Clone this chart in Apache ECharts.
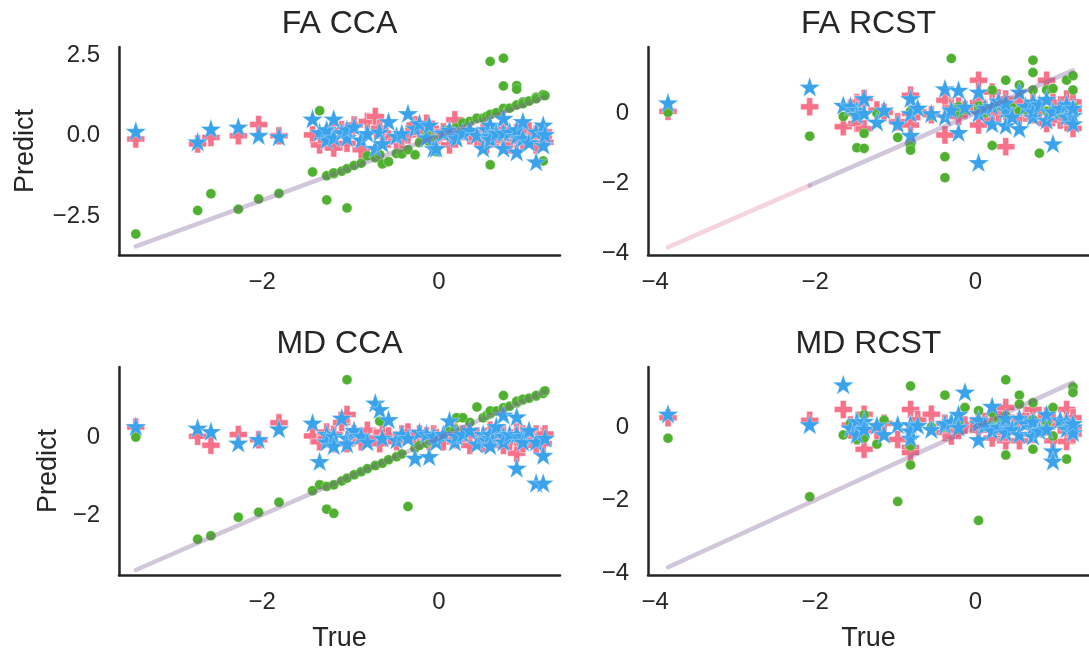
<!DOCTYPE html>
<html>
<head>
<meta charset="utf-8">
<script src="https://cdn.jsdelivr.net/npm/echarts@6/dist/echarts.min.js"></script>
<style>
  html, body { margin: 0; padding: 0; background: #ffffff; }
  #chart { width: 1089px; height: 655px; }
</style>
</head>
<body>
<div id="chart"></div>
<script>
// ---- observed scores (true) and predictions of the three models ----
const trueCCA = [-3.43,-2.73,-2.58,-2.27,-2.04,-1.81,-1.43,-1.35,-1.27,-1.27,-1.19,-1.19,-1.10,-1.04,-1.04,-0.96,-0.88,-0.81,-0.72,-0.67,-0.64,-0.57,-0.48,-0.42,-0.35,-0.27,-0.22,-0.14,-0.11,-0.06,-0.03,0.05,0.12,0.18,0.20,0.27,0.35,0.43,0.50,0.54,0.58,0.58,0.58,0.65,0.73,0.73,0.73,0.80,0.88,0.88,0.88,0.95,0.95,1.02,1.10,1.10,1.18,1.18,1.20];

const faCCAPlus = [-0.10,-0.25,-0.05,0.00,0.35,0.00,0.03,-0.28,0.03,-0.15,-0.38,0.15,0.19,-0.23,0.10,0.34,-0.43,0.45,0.60,0.24,0.00,-0.10,-0.18,-0.12,0.03,0.34,0.10,0.39,-0.05,-0.18,0.05,0.13,-0.28,0.50,0.05,0.13,0.00,-0.07,0.10,-0.28,0.05,-0.10,0.10,-0.07,0.03,-0.15,0.20,-0.28,0.10,-0.10,0.00,-0.18,0.05,0.15,-0.28,0.05,0.13,-0.07,-0.20];
const faCCADot = [-3.05,-2.32,-1.80,-2.28,-1.96,-1.79,-1.12,0.78,-1.24,-1.99,-1.18,-1.15,-1.10,-2.24,-1.02,-0.92,-0.85,-0.62,-0.68,-0.59,-0.87,-0.80,-0.55,-0.56,-0.43,-0.59,-0.21,0.03,-0.18,-0.10,-0.49,0.05,0.20,0.22,0.25,0.40,0.45,0.55,0.55,0.60,0.66,2.31,-0.90,0.72,0.85,2.41,1.55,0.86,0.96,1.56,1.45,1.05,1.00,1.08,1.20,1.15,1.28,-0.78,1.25];
const faCCAStar = [0.15,-0.18,0.22,0.28,0.02,-0.02,0.53,0.11,-0.12,0.20,0.53,-0.05,0.11,-0.05,0.20,0.29,-0.12,0.08,-0.38,0.13,-0.23,0.45,0.00,0.08,0.70,0.24,0.39,-0.05,0.34,-0.38,-0.38,0.10,0.19,0.00,-0.07,0.10,0.19,0.03,-0.38,0.20,0.34,0.00,-0.10,0.10,0.55,-0.38,0.10,0.13,-0.49,0.00,0.20,0.45,-0.07,-0.20,-0.80,0.13,0.34,-0.28,0.05];

const mdCCAPlus = [0.28,0.04,-0.19,0.09,-0.05,0.39,0.05,-0.10,0.00,0.15,-0.15,0.10,0.40,0.61,-0.15,0.10,-0.10,0.20,0.00,-0.15,0.15,0.05,-0.10,0.10,0.15,-0.05,0.10,0.05,-0.10,0.10,0.00,-0.10,0.05,0.15,-0.05,0.10,-0.20,0.05,-0.15,0.00,0.20,-0.10,0.10,-0.05,0.10,-0.20,0.05,-0.10,0.15,-0.40,0.05,0.10,-0.15,0.05,0.10,-0.20,0.05,-0.15,0.10];
const mdCCADot = [0.02,-2.63,-2.54,-2.06,-1.93,-1.67,-1.37,-1.22,-1.26,-1.85,-1.22,-1.96,-1.12,1.51,-1.05,-0.96,-0.88,-0.80,-0.72,0.43,-0.66,-0.57,-0.49,-0.42,-1.78,-0.27,-0.20,-0.14,-0.08,-0.04,0.00,0.05,0.17,0.22,0.52,0.52,0.40,0.80,0.52,0.58,0.62,0.65,0.70,0.70,1.10,0.75,0.78,0.82,0.90,0.92,0.95,0.98,1.00,1.03,1.08,1.10,1.18,1.15,1.22];
const mdCCAStar = [0.30,0.26,0.17,-0.13,-0.04,0.24,0.39,-0.61,0.10,-0.10,0.05,-0.20,0.52,0.00,-0.15,0.20,0.05,-0.10,0.91,0.74,0.00,0.48,-0.05,0.10,0.00,-0.52,0.15,0.10,-0.48,0.05,-0.10,0.10,0.45,-0.10,0.05,0.10,0.20,-0.15,0.10,-0.05,0.00,0.10,-0.20,0.30,0.60,0.05,-0.10,0.10,-0.78,0.10,0.55,0.05,-0.10,0.20,-1.17,-0.10,-1.17,-0.45,0.00];

const trueRCST = [-3.84,-2.07,-1.65,-1.56,-1.48,-1.48,-1.39,-1.39,-1.23,-1.14,-0.97,-0.81,-0.81,-0.81,-0.72,-0.55,-0.38,-0.38,-0.30,-0.21,-0.21,-0.13,0.04,0.04,0.04,0.12,0.21,0.21,0.29,0.38,0.38,0.38,0.46,0.55,0.55,0.63,0.72,0.72,0.72,0.80,0.89,0.89,0.97,0.97,1.06,1.14,1.14,1.22,1.22,1.22];

const faRCSTPlus = [0.05,0.18,-0.39,0.15,-0.30,0.30,0.42,-0.45,0.09,0.02,-0.25,0.51,-0.01,-0.34,0.04,-0.05,0.37,-0.63,0.15,0.20,-0.10,0.10,0.94,-0.34,0.30,0.10,0.60,-0.20,0.00,-0.96,0.40,0.05,0.20,-0.15,0.30,0.00,0.32,-0.02,-0.05,0.10,0.94,-0.30,0.05,0.30,-0.20,0.40,-0.15,0.32,-0.44,0.10];
const faRCSTDot = [0.02,-0.66,-0.10,0.05,-0.99,0.10,-1.01,-0.58,0.00,0.05,-0.70,-0.91,-1.06,0.05,0.10,-0.08,-1.25,-1.85,1.56,0.00,0.18,0.10,0.18,0.20,0.05,0.00,0.66,-0.93,0.20,0.94,0.10,0.00,0.15,0.80,0.05,0.10,1.51,1.16,0.66,-1.15,0.66,0.05,0.70,0.10,0.00,0.94,0.10,1.07,0.66,0.20];
const faRCSTStar = [0.30,0.75,0.23,0.20,0.09,-0.05,0.42,0.00,-0.25,0.09,-0.30,0.42,-0.01,-0.63,0.15,-0.01,0.70,-0.10,0.10,0.66,-0.55,0.18,0.61,-1.41,0.00,0.15,-0.30,0.20,0.35,0.10,-0.35,0.30,-0.10,0.61,-0.44,0.20,0.32,-0.10,0.05,0.25,-0.20,0.40,-0.87,0.05,0.15,-0.10,0.25,-0.06,0.15,-0.30];

const mdRCSTPlus = [0.25,0.18,0.48,0.05,-0.25,-0.05,0.35,-0.61,-0.10,0.10,-0.34,0.48,-0.56,-0.70,0.20,0.35,0.10,-0.15,-0.25,-0.10,0.05,0.05,0.05,0.20,-0.10,0.15,0.10,-0.30,0.40,0.53,-0.38,-0.15,0.10,-0.38,0.15,0.30,0.48,-0.20,0.10,0.05,0.00,0.30,-0.38,0.20,0.05,0.48,-0.40,0.00,-0.20,0.25];
const mdRCSTDot = [-0.31,-1.91,-0.22,0.10,-0.34,0.05,0.33,-0.30,-0.47,0.18,-2.04,1.12,-0.52,-1.04,0.05,0.00,0.87,0.00,0.10,0.10,-0.05,0.53,0.44,-2.56,0.10,0.00,0.39,0.05,0.20,1.29,-0.77,0.30,0.00,0.87,0.62,0.05,0.66,-0.61,0.20,-0.10,0.10,-0.05,0.53,-0.25,0.10,-0.88,0.00,1.09,0.94,0.05];
const mdRCSTStar = [0.36,0.07,1.16,-0.02,0.16,-0.20,0.16,-0.05,0.05,-0.20,0.07,0.07,-0.30,-0.10,0.05,-0.06,0.05,0.10,0.15,0.35,0.00,0.96,-0.34,0.10,0.20,0.05,0.57,-0.10,0.00,0.07,-0.15,0.25,-0.05,0.25,-0.20,0.10,0.00,-0.25,0.15,-0.10,0.35,-0.05,-0.65,-0.93,0.20,0.16,-0.05,0.00,-0.15,0.10];

// ---- tick labels ----
const xTicksCCA = [-2, 0];
const xTicksRCST = [-4, -2, 0];
const yTicksFACCA = [-2.5, 0, 2.5];
const yTicksFARCST = [-4, -2, 0];
const yTicksMDCCA = [-2, 0];
const yTicksMDRCST = [-4, -2, 0];

const panelTitles = ['FA CCA', 'FA RCST', 'MD CCA', 'MD RCST'];
const xName = 'True';
const yName = 'Predict';

// ---- styling ----
const INK = '#262626';
const FONT = '"Liberation Sans", Arial, Helvetica, sans-serif';
const PINK = '#f77189', GREEN = '#50b131', BLUE = '#3ba3ec';

function starPath() {
  const pts = [];
  for (let i = 0; i < 10; i++) {
    const r = i % 2 ? 0.382 : 1;
    const a = -Math.PI / 2 + i * Math.PI / 5;
    pts.push((r * Math.cos(a)).toFixed(4) + ',' + (r * Math.sin(a)).toFixed(4));
  }
  return 'path://M' + pts.join(' L') + ' Z';
}
const PLUS_PATH = 'path://M-1,-3 L1,-3 L1,-1 L3,-1 L3,1 L1,1 L1,3 L-1,3 L-1,1 L-3,1 L-3,-1 L-1,-1 Z';
const STAR_PATH = starPath();

function pairs(xs, ys) { return xs.map((x, i) => [x, ys[i]]); }

function fmt(dec) {
  return function (v) {
    if (Math.abs(v) < 1e-9) return (0).toFixed(dec);
    return (v < 0 ? '\u2212' : '') + Math.abs(v).toFixed(dec);
  };
}

// panel layout: frame of each subplot in pixels and its axis extents
const panels = [
  { title: panelTitles[0], xs: trueCCA, plus: faCCAPlus, dot: faCCADot, star: faCCAStar,
    left: 119, top: 47, xMin: -3.62, xMax: 1.37, yMin: -3.70, yMax: 2.76,
    xTicks: xTicksCCA, yTicks: yTicksFACCA, yDec: 1, showX: false, showY: true, yGap: 80 },
  { title: panelTitles[1], xs: trueRCST, plus: faRCSTPlus, dot: faRCSTDot, star: faRCSTStar,
    left: 648, top: 47, xMin: -4.09, xMax: 1.42, yMin: -4.06, yMax: 1.89,
    xTicks: xTicksRCST, yTicks: yTicksFARCST, yDec: 0, showX: false, showY: false, split: true },
  { title: panelTitles[2], xs: trueCCA, plus: mdCCAPlus, dot: mdCCADot, star: mdCCAStar,
    left: 119, top: 367, xMin: -3.62, xMax: 1.37, yMin: -3.56, yMax: 1.84,
    xTicks: xTicksCCA, yTicks: yTicksMDCCA, yDec: 0, showX: true, showY: true, yGap: 57 },
  { title: panelTitles[3], xs: trueRCST, plus: mdRCSTPlus, dot: mdRCSTDot, star: mdRCSTStar,
    left: 648, top: 367, xMin: -4.09, xMax: 1.42, yMin: -4.05, yMax: 1.64,
    xTicks: xTicksRCST, yTicks: yTicksMDRCST, yDec: 0, showX: true, showY: false }
];
const W = 441, H = 208;

const grid = [], xAxis = [], yAxis = [], series = [], title = [];

panels.forEach((p, i) => {
  grid.push({ left: p.left, top: p.top, width: W, height: H, containLabel: false, outerBoundsMode: 'none' });
  title.push({
    text: p.title, left: p.left + W / 2, top: p.top - 39, textAlign: 'center', padding: 0,
    textStyle: { color: INK, fontFamily: FONT, fontSize: 32, fontWeight: 'normal' }
  });
  xAxis.push({
    gridIndex: i, type: 'value', min: p.xMin, max: p.xMax,
    splitLine: { show: false }, axisTick: { show: false },
    axisLine: { onZero: false, lineStyle: { color: INK, width: 2.5 } },
    axisLabel: { customValues: p.xTicks, formatter: fmt(0), color: INK, fontFamily: FONT, fontSize: 24, margin: 15 },
    name: p.showX ? xName : '', nameLocation: 'middle', nameGap: 50,
    nameTextStyle: { color: INK, fontFamily: FONT, fontSize: 27 }
  });
  yAxis.push({
    gridIndex: i, type: 'value', min: p.yMin, max: p.yMax,
    splitLine: { show: false }, axisTick: { show: false },
    axisLine: { onZero: false, lineStyle: { color: INK, width: 2.5 } },
    axisLabel: { customValues: p.yTicks, formatter: fmt(p.yDec), color: INK, fontFamily: FONT, fontSize: 24, margin: 19 },
    name: p.showY ? yName : '', nameLocation: 'middle', nameGap: p.yGap || 60, nameRotate: 90,
    nameTextStyle: { color: INK, fontFamily: FONT, fontSize: 27 }
  });

  const common = { xAxisIndex: i, yAxisIndex: i, type: 'scatter', silent: true, animation: false };
  series.push(Object.assign({}, common, {
    data: pairs(p.xs, p.plus), symbol: PLUS_PATH, symbolSize: 18,
    itemStyle: { color: PINK, opacity: 1, borderColor: '#ffffff', borderWidth: 0.5 }
  }));
  series.push(Object.assign({}, common, {
    data: pairs(p.xs, p.dot), symbol: 'circle', symbolSize: 10,
    itemStyle: { color: GREEN, opacity: 1, borderColor: '#ffffff', borderWidth: 0.3 }
  }));
  series.push(Object.assign({}, common, {
    data: pairs(p.xs, p.star), symbol: STAR_PATH, symbolSize: 21, symbolKeepAspect: true,
    itemStyle: { color: BLUE, opacity: 1, borderColor: '#ffffff', borderWidth: 0.3 }
  }));

  // identity reference line y = x across the observed range
  const sorted = p.xs.slice().sort((a, b) => a - b);
  const lo = sorted[0], hi = sorted[sorted.length - 1];
  const lineCommon = { xAxisIndex: i, yAxisIndex: i, type: 'line', silent: true, animation: false,
    symbol: 'none', z: 5 };
  if (p.split) {
    const mid = sorted[1];
    series.push(Object.assign({}, lineCommon, {
      data: [[lo, lo], [mid, mid]],
      lineStyle: { color: 'rgba(225,130,165,0.35)', width: 4.5, cap: 'round' }
    }));
    series.push(Object.assign({}, lineCommon, {
      data: [[mid, mid], [hi, hi]],
      lineStyle: { color: 'rgba(125,95,150,0.35)', width: 4.5, cap: 'round' }
    }));
  } else {
    series.push(Object.assign({}, lineCommon, {
      data: [[lo, lo], [hi, hi]],
      lineStyle: { color: 'rgba(125,95,150,0.35)', width: 4.5, cap: 'round' }
    }));
  }
});

const chart = echarts.init(document.getElementById('chart'), null, { renderer: 'canvas' });
chart.setOption({
  backgroundColor: '#ffffff',
  animation: false,
  title, grid, xAxis, yAxis, series
});
</script>
</body>
</html>
